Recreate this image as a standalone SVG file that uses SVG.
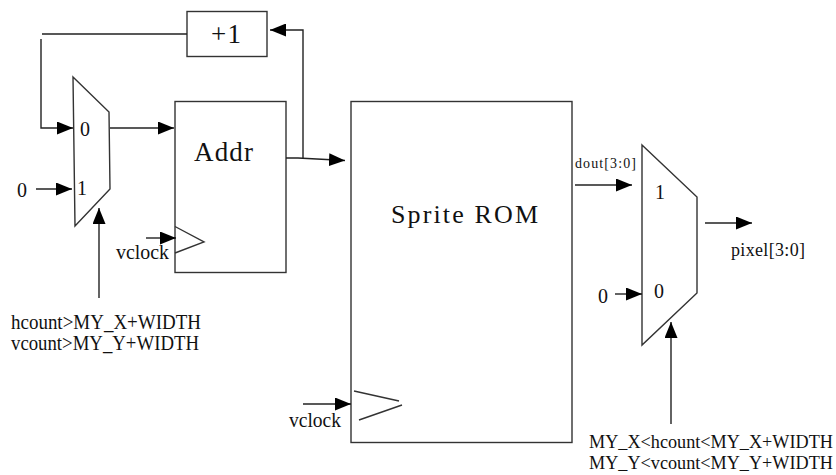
<svg xmlns="http://www.w3.org/2000/svg" width="836" height="475" viewBox="0 0 836 475">
<defs>
<style>
.s{fill:none;stroke:#333;stroke-width:1.4}
.b{fill:#fff;stroke:#333;stroke-width:1.4}
.c{fill:none;stroke:#222;stroke-width:1.4}
text{font-family:"Liberation Serif","Times New Roman",serif;fill:#111}
.m{font-size:20px}
.w{font-size:18.2px}
</style>
<marker id="a" markerUnits="userSpaceOnUse" markerWidth="17" markerHeight="13" refX="16" refY="6.5" orient="auto"><path d="M0 0L16 6.5L0 13Z" fill="#000"/></marker>
</defs>
<rect width="836" height="475" fill="#fff"/>
<g id="plus1"><rect class="b" x="187" y="11.500" width="80" height="45"/><text x="211" y="43" font-size="27" textLength="30">+1</text></g>
<g id="mux1"><path class="b" d="M73 77L109 112L110 189L75 226Z"/><text x="80" y="136" class="m">0</text><text x="77" y="195" class="m">1</text></g>
<g id="addr"><rect class="b" x="175" y="101.500" width="111" height="171"/><text x="194" y="161" font-size="27" textLength="59">Addr</text><path class="s" d="M175 226.500L204 242L175 253"/></g>
<g id="rom"><rect class="b" x="351" y="101.500" width="221" height="341"/><text x="391" y="223" font-size="26" textLength="147">Sprite ROM</text><path class="s" d="M354 391L399 401M359 420L402 405"/></g>
<g id="mux2"><path class="b" d="M642 145L697 197L697 293L642 345Z"/><text x="655" y="199" class="m">1</text><text x="654" y="298" class="m">0</text></g>
<g id="connectors">
<path class="c" d="M187 34H42M41 39V128H73" marker-end="url(#a)"/>
<path class="c" d="M110 128H174" marker-end="url(#a)"/>
<path class="c" d="M36 189H72" marker-end="url(#a)"/>
<path class="c" d="M99 298V208" marker-end="url(#a)"/>
<path class="c" d="M286 158H298L345 160.500" marker-end="url(#a)"/>
<path class="c" d="M303 159V30H270" marker-end="url(#a)"/>
<path class="c" d="M146 238H176" marker-end="url(#a)"/>
<path class="c" d="M303 404H351" marker-end="url(#a)"/>
<path class="c" d="M575 185H632" marker-end="url(#a)"/>
<path class="c" d="M705 223H752" marker-end="url(#a)"/>
<path class="c" d="M615 294H642" marker-end="url(#a)"/>
<path class="c" d="M671 424V322" marker-end="url(#a)"/>
</g>
<g id="labels">
<text x="17" y="197" class="m">0</text>
<text x="116" y="259" class="m" textLength="53" lengthAdjust="spacingAndGlyphs">vclock</text>
<text x="289" y="427" class="m" textLength="52" lengthAdjust="spacingAndGlyphs">vclock</text>
<text x="11" y="329" class="m" textLength="190" lengthAdjust="spacingAndGlyphs">hcount&gt;MY_X+WIDTH</text>
<text x="11" y="350" class="m" textLength="188" lengthAdjust="spacingAndGlyphs">vcount&gt;MY_Y+WIDTH</text>
<text x="575" y="168" font-size="14" textLength="61">dout[3:0]</text>
<text x="731" y="256" font-size="18" textLength="74">pixel[3:0]</text>
<text x="598" y="303" class="m">0</text>
<text x="589" y="448" class="w">MY_X&lt;hcount&lt;MY_X+WIDTH</text>
<text x="589" y="469" class="w">MY_Y&lt;vcount&lt;MY_Y+WIDTH</text>
</g>
</svg>
